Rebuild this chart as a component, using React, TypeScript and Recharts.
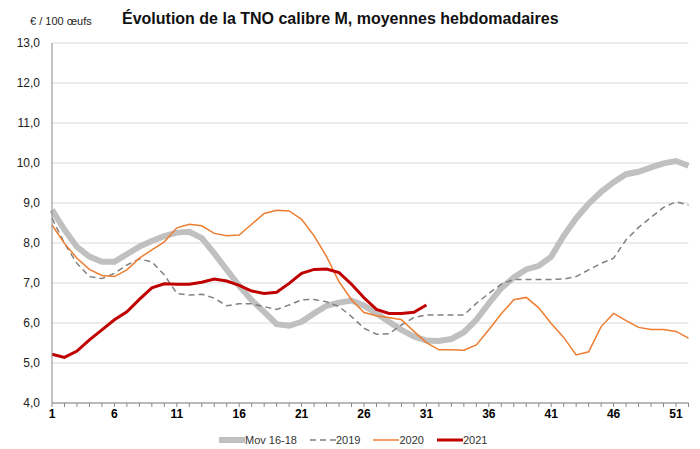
import React from 'react';
import { LineChart, Line, XAxis, YAxis, CartesianGrid } from 'recharts';

const weeks: number[] = Array.from({ length: 52 }, (_, i) => i + 1);
const labelWeeks: number[] = [1, 6, 11, 16, 21, 26, 31, 36, 41, 46, 51];
const yTicks: number[] = [4, 5, 6, 7, 8, 9, 10, 11, 12, 13];

const mov1618: number[] = [
  8.83, 8.33, 7.9, 7.66, 7.53, 7.53, 7.72, 7.91, 8.05, 8.17,
  8.26, 8.28, 8.12, 7.74, 7.33, 6.93, 6.57, 6.28, 5.97, 5.93,
  6.03, 6.24, 6.43, 6.51, 6.56, 6.43, 6.24, 6.03, 5.83, 5.66,
  5.56, 5.55, 5.6, 5.77, 6.08, 6.49, 6.87, 7.14, 7.34, 7.43,
  7.66, 8.18, 8.62, 8.98, 9.28, 9.52, 9.72, 9.78, 9.89, 9.99,
  10.05, 9.93,
];
const y2019: number[] = [
  8.62, 7.99, 7.49, 7.16, 7.11, 7.24, 7.45, 7.6, 7.53, 7.2,
  6.74, 6.7, 6.72, 6.62, 6.43, 6.48, 6.48, 6.41, 6.34, 6.45,
  6.58, 6.59, 6.53, 6.41, 6.16, 5.87, 5.72, 5.73, 5.95, 6.14,
  6.2, 6.2, 6.2, 6.2, 6.49, 6.74, 6.97, 7.09, 7.09, 7.09,
  7.09, 7.1, 7.16, 7.33, 7.49, 7.62, 8.08, 8.39, 8.64, 8.89,
  9.03, 8.95,
];
const y2020: number[] = [
  8.45, 7.99, 7.62, 7.34, 7.19, 7.16, 7.33, 7.62, 7.83, 8.03,
  8.38, 8.47, 8.43, 8.24, 8.18, 8.2, 8.47, 8.74, 8.82, 8.8,
  8.59, 8.18, 7.66, 7.03, 6.58, 6.26, 6.18, 6.14, 6.08, 5.79,
  5.51, 5.33, 5.33, 5.32, 5.45, 5.83, 6.23, 6.58, 6.64, 6.38,
  5.99, 5.64, 5.2, 5.28, 5.91, 6.24, 6.06, 5.89, 5.84, 5.84,
  5.79, 5.62,
];
const y2021: number[] = [
  5.22, 5.14, 5.3, 5.58, 5.83, 6.08, 6.28, 6.59, 6.88, 6.98,
  6.97, 6.97, 7.02, 7.1, 7.05, 6.94, 6.8, 6.74, 6.77, 6.99,
  7.24, 7.34, 7.35, 7.26, 6.97, 6.63, 6.34, 6.24, 6.24, 6.27,
  6.45,
];

const data = weeks.map((w, i) => ({
  week: w,
  mov: mov1618[i],
  y2019: y2019[i],
  y2020: y2020[i],
  y2021: i < y2021.length ? y2021[i] : null,
}));

const FONT = '"Liberation Sans", Arial, sans-serif';

const legendItems = [
  { label: 'Mov 16-18', color: '#c0c0c0', width: 6, dash: undefined as string | undefined },
  { label: '2019', color: '#808080', width: 1.5, dash: '6 4' },
  { label: '2020', color: '#ed7d31', width: 1.5, dash: undefined },
  { label: '2021', color: '#c00000', width: 3, dash: undefined },
];

export default function App() {
  return (
    <div style={{ position: 'absolute', left: 0, top: 0, width: 700, height: 449, background: '#fff', fontFamily: FONT }}>
      <div style={{ position: 'absolute', left: 30, top: 15, fontSize: 11, color: '#222', whiteSpace: 'nowrap' }}>
        € / 100 œufs
      </div>
      <div style={{ position: 'absolute', left: 122, top: 10, fontSize: 16, fontWeight: 'bold', color: '#111', whiteSpace: 'nowrap' }}>
        Évolution de la TNO calibre M, moyennes hebdomadaires
      </div>
      <LineChart
        width={700}
        height={449}
        data={data}
        margin={{ top: 43, right: 11.5, bottom: 0, left: 0 }}
      >
        <CartesianGrid horizontal={true} vertical={false} stroke="#d9d9d9" />
        <XAxis
          dataKey="week"
          type="number"
          domain={[1, 52]}
          ticks={weeks}
          interval={0}
          height={46}
          tickSize={4}
          tickMargin={2}
          stroke="#888"
          tickLine={{ stroke: '#888' }}
          tickFormatter={(v: number) => (labelWeeks.includes(v) ? String(v) : '')}
          tick={{ fill: '#000', fontSize: 12, fontWeight: 'bold', fontFamily: FONT }}
        />
        <YAxis
          type="number"
          domain={[4, 13]}
          ticks={yTicks}
          interval={0}
          width={52}
          tickLine={false}
          tickSize={0}
          tickMargin={12}
          stroke="#888"
          tickFormatter={(v: number) => v.toFixed(1).replace('.', ',')}
          tick={{ fill: '#222', fontSize: 12, fontFamily: FONT }}
        />
        <Line type="linear" dataKey="mov" stroke="#c0c0c0" strokeWidth={6} dot={false} isAnimationActive={false} />
        <Line type="linear" dataKey="y2019" stroke="#808080" strokeWidth={1.5} strokeDasharray="6 4" dot={false} isAnimationActive={false} />
        <Line type="linear" dataKey="y2020" stroke="#ed7d31" strokeWidth={1.5} dot={false} isAnimationActive={false} />
        <Line type="linear" dataKey="y2021" stroke="#c00000" strokeWidth={3} dot={false} isAnimationActive={false} />
      </LineChart>
      <div style={{ position: 'absolute', left: 219, top: 434, display: 'flex', alignItems: 'center', fontSize: 11, color: '#333', whiteSpace: 'nowrap' }}>
        {legendItems.map((it) => (
          <div key={it.label} style={{ display: 'flex', alignItems: 'center', marginRight: 13 }}>
            <svg width={26} height={10}>
              <line x1={0} y1={5} x2={26} y2={5} stroke={it.color} strokeWidth={it.width} strokeDasharray={it.dash} />
            </svg>
            <span>{it.label}</span>
          </div>
        ))}
      </div>
    </div>
  );
}
